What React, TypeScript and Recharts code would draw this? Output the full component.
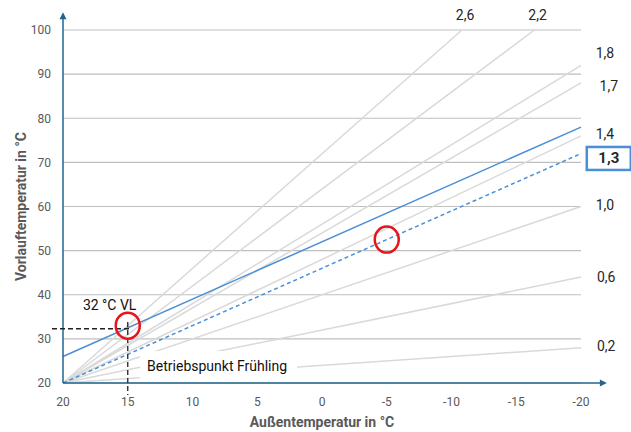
import { LineChart, Line, XAxis, YAxis, CartesianGrid, ReferenceLine, ReferenceDot, Label } from 'recharts'

// heating curves: start point (20 °C outside / 20 °C flow) and end point
const curveNames = ['2,6', '2,2', '1,8', '1,7', '1,4', '1,0', '0,6', '0,2']
const curveEndX = [-10.8, -16.4, -20, -20, -20, -20, -20, -20]
const curveEndY = [100, 100, 92, 88, 76, 60, 44, 28]

// highlighted 1,3 curve (dashed) and the shifted one (solid)
const dashedX = [20, -20]
const dashedY = [20, 72]
const shiftedX = [20, -20]
const shiftedY = [26, 78]

const xTicks = [20, 15, 10, 5, 0, -5, -10, -15, -20]
const yTicks = [20, 30, 40, 50, 60, 70, 80, 90, 100]

// curve labels (text, x, y)
const labelText = ['2,6', '2,2', '1,8', '1,7', '1,4', '1,3', '1,0', '0,6', '0,2']
const labelX = [-11.2, -16.8, -22, -22.3, -22, -22.3, -22, -22.1, -22.1]
const labelY = [103.4, 103.4, 94.8, 87.3, 76.5, 71, 60.4, 44, 28.4]

// operating points (red circles)
const pointX = [15, -5]
const pointY = [33, 52.5]

const AXIS = '#21668f'
const BLUE = '#4a8fd8'
const GRAY = '#d9d9d9'
const FONT = 'Roboto, "Liberation Sans", sans-serif'

const toRows = (xs: number[], ys: number[]) => xs.map((x, i) => ({ x, y: ys[i] }))

const curves = curveNames.map((name, i) => ({
  name,
  data: [{ x: 20, y: 20 }, { x: curveEndX[i], y: curveEndY[i] }],
}))

function ArrowLine(props: any) {
  const { x1, y1, x2, y2 } = props
  const horiz = Math.abs(y2 - y1) < 1
  const head = horiz
    ? `${x2},${y2} ${x2 - 7},${y2 - 3.5} ${x2 - 7},${y2 + 3.5}`
    : `${x2},${y2} ${x2 - 3.5},${y2 + 7} ${x2 + 3.5},${y2 + 7}`
  return (
    <g>
      <line x1={x1} y1={y1} x2={horiz ? x2 - 4 : x2} y2={horiz ? y2 : y2 + 4} stroke={AXIS} strokeWidth={1.5} />
      <polygon points={head} fill={AXIS} />
    </g>
  )
}

function CurveLabel(text: string) {
  return (props: any) => {
    const { cx, cy } = props
    const bold = text === '1,3'
    return (
      <g>
        {bold && <rect x={cx - 24} y={cy - 11} width={44} height={23} fill="#fff" stroke={BLUE} strokeWidth={2.5} />}
        <text
          x={cx - 2}
          y={cy}
          textAnchor="middle"
          dominantBaseline="central"
          fontFamily={FONT}
          fontSize={bold ? 15 : 14}
          fontWeight={bold ? 700 : 400}
          fill="#262626"
        >
          {text}
        </text>
      </g>
    )
  }
}

function RedCircle(props: any) {
  const { cx, cy } = props
  return <ellipse cx={cx} cy={cy} rx={12} ry={13} fill="none" stroke="#e8141b" strokeWidth={2.5} />
}

function VlText(props: any) {
  const { cx, cy } = props
  return (
    <text x={cx} y={cy} textAnchor="middle" fontFamily={FONT} fontSize={14} fill="#111">
      32 °C VL
    </text>
  )
}

function SpringText(props: any) {
  const { cx, cy } = props
  return (
    <g>
      <rect x={cx - 77} y={cy - 20} width={157} height={30} fill="#fff" />
      <text x={cx} y={cy} textAnchor="middle" fontFamily={FONT} fontSize={14} fill="#111">
        Betriebspunkt Frühling
      </text>
    </g>
  )
}

export default function App() {
  return (
    <div style={{ position: 'absolute', left: 0, top: 0, background: '#fff' }}>
      <LineChart width={631} height={432} margin={{ top: 30, right: 50, bottom: 0, left: 0 }}>
        <CartesianGrid vertical={false} stroke="#bfbfbf" strokeWidth={1.2} />
        <XAxis
          type="number"
          dataKey="x"
          domain={[-20, 20]}
          reversed
          ticks={xTicks}
          allowDuplicatedCategory={false}
          axisLine={false}
          tickLine={false}
          tickSize={0}
          tickMargin={14}
          height={49}
          tick={{ fill: '#595959', fontSize: 12, fontFamily: FONT }}
        >
          <Label
            content={(p: any) => {
              const vb = p.viewBox
              return (
                <text x={vb.x + vb.width / 2} y={vb.y + 44} textAnchor="middle" fontFamily={FONT} fontSize={14} fontWeight={700} fill="#595959">
                  Außentemperatur in °C
                </text>
              )
            }}
          />
        </XAxis>
        <YAxis
          type="number"
          dataKey="y"
          domain={[20, 100]}
          ticks={yTicks}
          axisLine={false}
          tickLine={false}
          tickSize={0}
          tickMargin={12}
          width={63}
          tick={{ fill: '#595959', fontSize: 12, fontFamily: FONT }}
        >
          <Label
            content={(p: any) => {
              const vb = p.viewBox
              const x = vb.x + 26
              const y = vb.y + vb.height / 2
              return (
                <text x={x} y={y} transform={`rotate(-90 ${x} ${y})`} textAnchor="middle" fontFamily={FONT} fontSize={14} fontWeight={700} fill="#595959">
                  Vorlauftemperatur in °C
                </text>
              )
            }}
          />
        </YAxis>

        {curves.map((c) => (
          <Line
            key={c.name}
            data={c.data}
            dataKey="y"
            stroke={GRAY}
            strokeWidth={1.5}
            dot={false}
            activeDot={false}
            isAnimationActive={false}
          />
        ))}
        <Line data={toRows(dashedX, dashedY)} dataKey="y" stroke={BLUE} strokeWidth={1.5} strokeDasharray="4 3" dot={false} activeDot={false} isAnimationActive={false} />
        <Line data={toRows(shiftedX, shiftedY)} dataKey="y" stroke={BLUE} strokeWidth={1.5} dot={false} activeDot={false} isAnimationActive={false} />

        {/* axes with arrow heads */}
        <ReferenceLine segment={[{ x: 20, y: 20 }, { x: -22, y: 20 }]} ifOverflow="visible" shape={ArrowLine} />
        <ReferenceLine segment={[{ x: 20, y: 20 }, { x: 20, y: 104 }]} ifOverflow="visible" shape={ArrowLine} />

        {/* 32 °C helper lines */}
        <ReferenceLine segment={[{ x: 20.85, y: 32.3 }, { x: 14.8, y: 32.3 }]} ifOverflow="visible" stroke="#222" strokeWidth={1.3} strokeDasharray="5 3" />
        <ReferenceLine segment={[{ x: 15, y: 33.8 }, { x: 15, y: 17.3 }]} ifOverflow="visible" stroke="#222" strokeWidth={1.3} strokeDasharray="5 3" />

        <ReferenceDot x={8.1} y={22.7} r={1} ifOverflow="visible" shape={SpringText} />
        <ReferenceDot x={16.4} y={36.5} r={1} ifOverflow="visible" shape={VlText} />

        {pointX.map((x, i) => (
          <ReferenceDot key={'p' + i} x={x} y={pointY[i]} r={12} ifOverflow="visible" shape={RedCircle} />
        ))}

        {labelText.map((t, i) => (
          <ReferenceDot key={t} x={labelX[i]} y={labelY[i]} r={1} ifOverflow="visible" shape={CurveLabel(t)} />
        ))}
      </LineChart>
    </div>
  )
}
